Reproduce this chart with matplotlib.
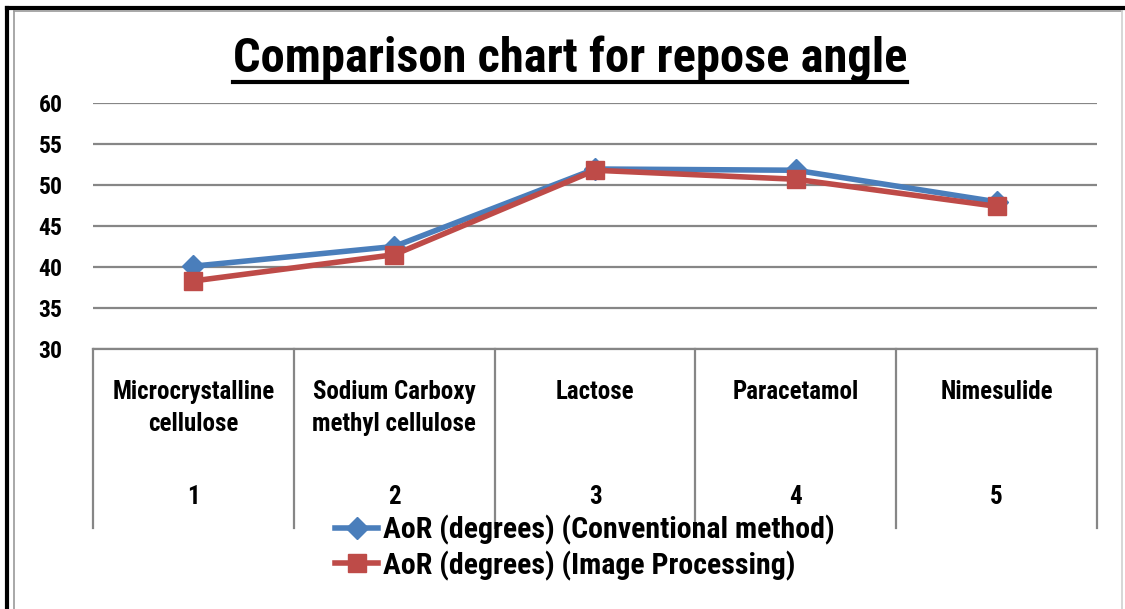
import matplotlib
matplotlib.use("Agg")
import matplotlib.pyplot as plt
from matplotlib.lines import Line2D

FONT = ['Roboto Condensed', 'DejaVu Sans']
plt.rcParams['font.family'] = FONT

categories = ["Microcrystalline\ncellulose", "Sodium Carboxy\nmethyl cellulose",
              "Lactose", "Paracetamol", "Nimesulide"]
numbers = ["1", "2", "3", "4", "5"]
conventional = [40.1, 42.5, 51.95, 51.8, 47.95]
image_proc = [38.3, 41.5, 51.8, 50.7, 47.4]
series_names = ["AoR (degrees) (Conventional method)", "AoR (degrees) (Image Processing)"]
yticks = [30, 35, 40, 45, 50, 55, 60]
title = "Comparison chart for repose angle"

W, H = 1125, 609
fig = plt.figure(figsize=(W / 100, H / 100), dpi=100)

def fx(px):
    return px / W

def fy(py):
    return 1 - py / H

ax = fig.add_axes([fx(93), fy(349), fx(1097) - fx(93), fy(103) - fy(349)])
x = list(range(len(categories)))
ax.set_xlim(-0.5, len(categories) - 0.5)
ax.set_ylim(30, 60)
ax.set_yticks(yticks)
ax.set_yticklabels([str(t) for t in yticks], fontsize=17, fontweight='bold')
ax.tick_params(axis='y', length=0, pad=22)
ax.set_xticks([])
for s in ax.spines.values():
    s.set_visible(False)
ax.grid(axis='y', color='#868686', lw=1.6)
ax.set_axisbelow(True)

blue = '#4A7EBB'
red = '#BE4B48'
ax.plot(x, conventional, color=blue, lw=4, marker='D', ms=11, mfc=blue, mec=blue,
        solid_capstyle='round', zorder=3)
ax.plot(x, image_proc, color=red, lw=4, marker='s', ms=13, mfc=red, mec=red,
        solid_capstyle='round', zorder=4)

# multi-level category axis
trans = ax.get_xaxis_transform()
y_top = 0.0
y_bot = -(528 - 349) / (349 - 103)
ax.plot([-0.5, len(categories) - 0.5], [y_top, y_top], transform=trans,
        color='#868686', lw=1.6, clip_on=False)
for b in [i - 0.5 for i in range(len(categories) + 1)]:
    ax.plot([b, b], [y_top, y_bot], transform=trans, color='#868686', lw=1.6,
            clip_on=False)
for i, (c, n) in enumerate(zip(categories, numbers)):
    ax.text(i, -(380 - 349) / 246, c, transform=trans, ha='center', va='top',
            fontsize=18, fontweight='bold', linespacing=1.42)
    ax.text(i, -(497 - 349) / 246, n, transform=trans, ha='center', va='center',
            fontsize=18, fontweight='bold')

# title with underline
t = fig.text(fx(570), fy(59), title, ha='center', va='center', fontsize=35,
             fontweight='bold')
fig.canvas.draw()
bb = t.get_window_extent()
fig.add_artist(Line2D([bb.x0 / W, bb.x1 / W], [fy(81.5), fy(81.5)], color='black', lw=3))

# legend
handles = [Line2D([], [], color=blue, lw=4, marker='D', ms=11),
           Line2D([], [], color=red, lw=4, marker='s', ms=13)]
leg = fig.legend(handles, series_names, loc='upper left',
                 bbox_to_anchor=(fx(335), fy(515)), frameon=False,
                 prop={'size': 21.5, 'weight': 'bold'}, handlelength=1.45,
                 handletextpad=0.15, labelspacing=0.18, borderaxespad=0,
                 borderpad=0)

# outer frame
fig.add_artist(Line2D([fx(7), fx(7)], [0, fy(8)], color='black', lw=3))
fig.add_artist(Line2D([fx(7), 1], [fy(8), fy(8)], color='black', lw=3))
fig.add_artist(Line2D([fx(13.5), fx(13.5)], [0, fy(11)], color='#9a9a9a', lw=1.2))
fig.add_artist(Line2D([fx(13.5), fx(1121.5)], [fy(11), fy(11)], color='#9a9a9a', lw=1.2))
fig.add_artist(Line2D([fx(1121.5), fx(1121.5)], [0, fy(11)], color='#d0d0d0', lw=1.2))

fig.savefig("out.png", dpi=100)
